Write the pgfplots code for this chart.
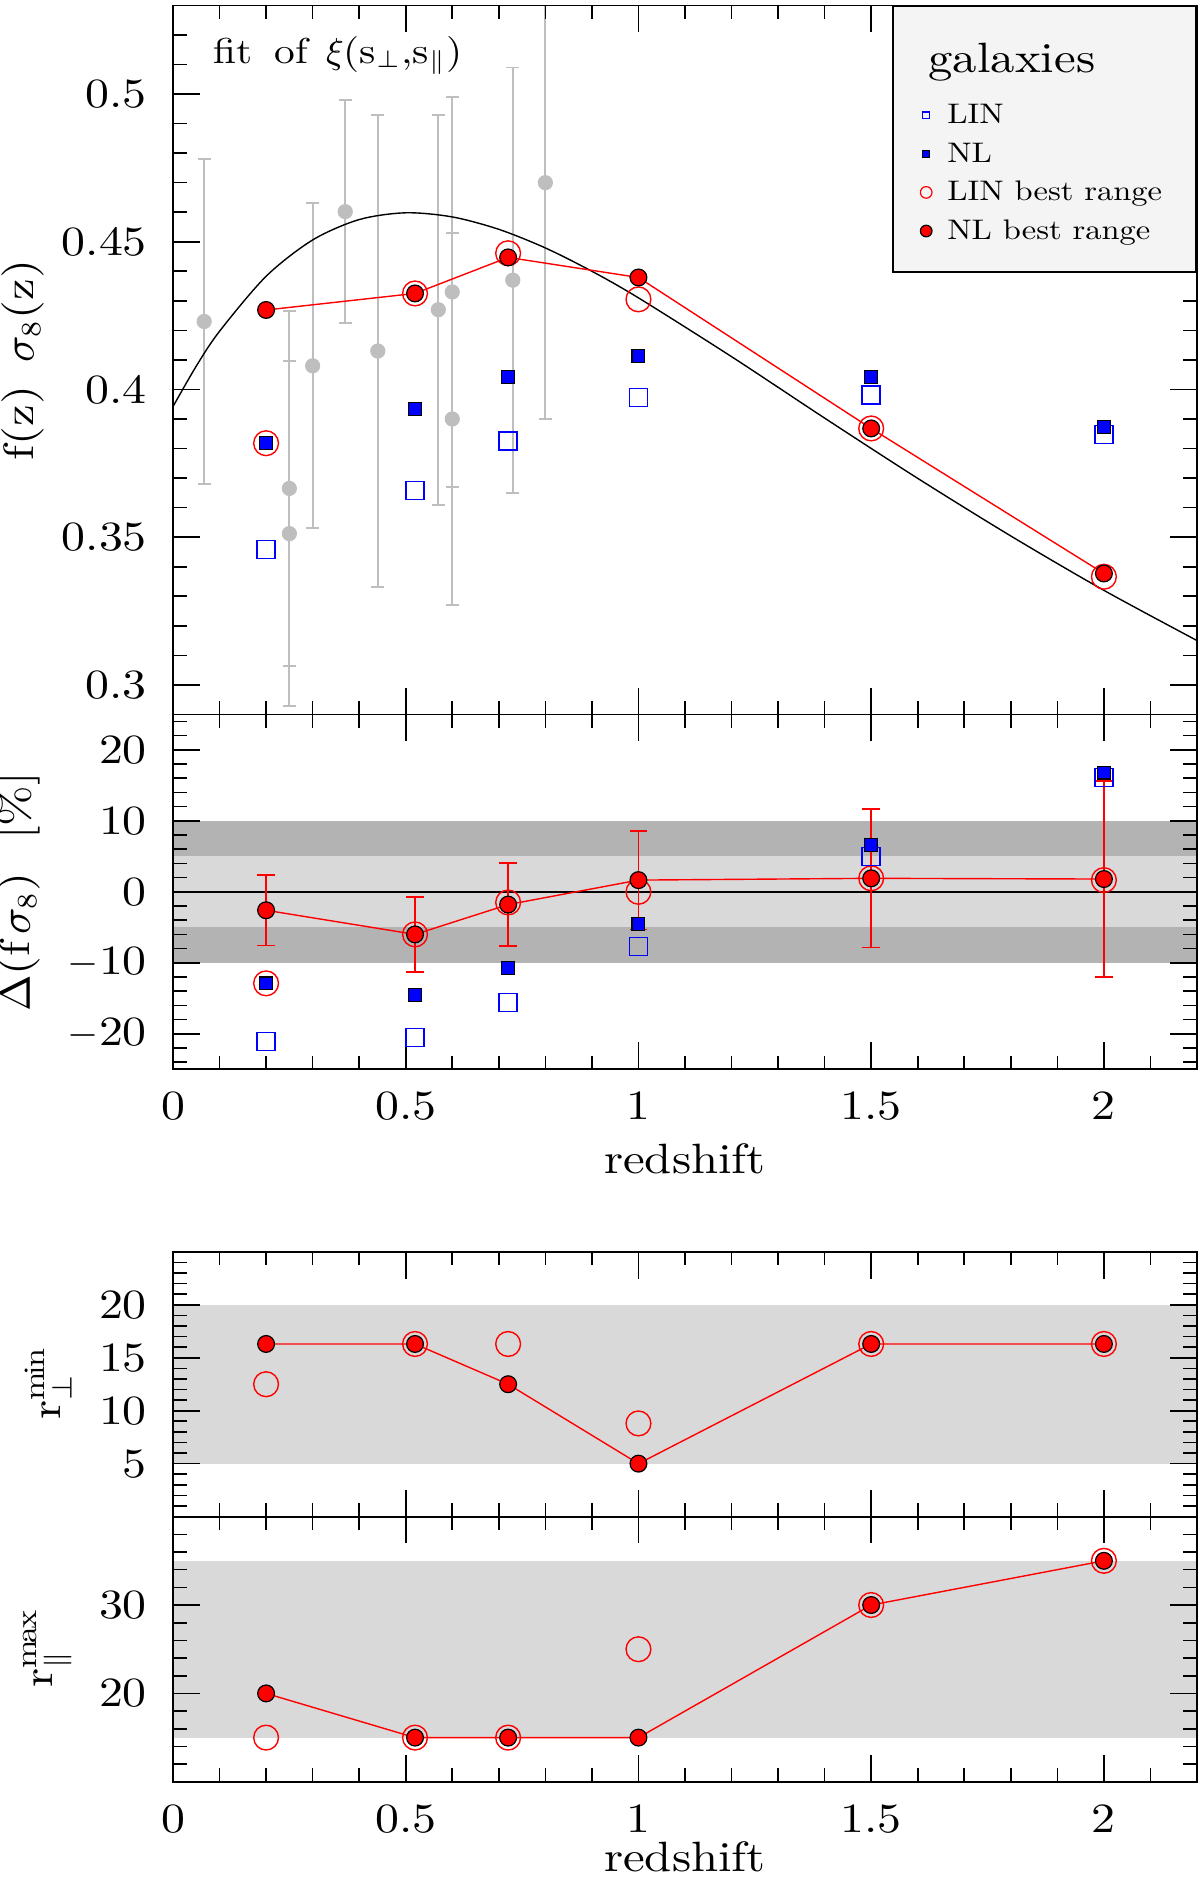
\documentclass[border=0pt]{standalone}
\usepackage{fontspec}
\setmainfont{lmroman10-regular.otf}[FakeStretch=1.15]
\usepackage{pgfplots}
\pgfplotsset{compat=1.18}
\definecolor{lgray}{HTML}{D9D9D9}
\definecolor{dgray}{HTML}{B3B3B3}
\definecolor{dgr}{HTML}{BEBEBE}
\definecolor{legfill}{HTML}{F4F4F4}
\pgfplotsset{
  base/.style={
    scale only axis, width=256pt,
    xmin=0, xmax=2.2,
    xtick={0,0.5,1,1.5,2},
    minor xtick={0.1,0.2,0.3,0.4,0.6,0.7,0.8,0.9,1.1,1.2,1.3,1.4,1.6,1.7,1.8,1.9,2.1},
    tick align=inside,
    major tick length=6.7pt, minor tick length=3.4pt,
    tick style={black, line width=0.4pt},
    axis line style={line width=0.45pt},
    tick label style={font=\fontsize{10.4}{12}\selectfont},
    label style={font=\fontsize{10.6}{12}\selectfont},
    /pgf/number format/assume math mode=true,
    yticklabel style={xshift=-3pt},
    xticklabel style={yshift=-2.2pt},
    xlabel style={yshift=1.2pt},
    axis on top,
  },
  legmark/.style={legend image code/.code={\path (-5.1pt,0pt) (5.1pt,0pt); \draw[##1] plot[only marks] coordinates {(0pt,0pt)};}},
  linsq/.style={only marks, mark=square, blue, mark size=2.25pt, line width=0.35pt},
  nlsq/.style={only marks, mark=square*, mark size=1.6pt, mark options={draw=black, fill=blue, line width=0.3pt}},
  linci/.style={only marks, mark=o, red, mark size=3.1pt, line width=0.35pt},
  nlci/.style={red, line width=0.35pt, mark=*, mark size=2.1pt, mark options={draw=black, fill=red, line width=0.3pt}},
}
\begin{document}
\begin{tikzpicture}
% ---------------- top panel ----------------
\begin{axis}[base, at={(0pt,0pt)}, anchor=north west, height=177.25pt,
  ymin=0.29, ymax=0.53, ytick={0.3,0.35,0.4,0.45,0.5},
  minor ytick={0.29,0.31,0.32,0.33,0.34,0.36,0.37,0.38,0.39,0.41,0.42,0.43,0.44,0.46,0.47,0.48,0.49,0.51,0.52},
  xticklabels={},
  ylabel={f(z)\, $\sigma_8$(z)},
  ylabel style={yshift=-2.5pt},
  legend cell align=left,
  legend style={at={(1,1)}, anchor=north east, fill=legfill, draw=black, line width=0.45pt,
    inner xsep=3.1pt, inner ysep=5.35pt, font=\fontsize{7.07}{8}\selectfont,
    nodes={inner sep=0pt, text height=6.9pt, text depth=2.75pt}, row sep=0pt, column sep=0pt},
]
\addlegendimage{empty legend}
\addlegendentry[text height=11.25pt, text depth=5.8pt]{\hspace*{-4.7pt}\fontsize{10.6}{12}\selectfont galaxies}
\addlegendimage{legmark, blue, mark=square, mark size=0.85pt, line width=0.35pt}
\addlegendentry{LIN}
\addlegendimage{legmark, draw=black, fill=blue, mark=square*, mark size=0.85pt, line width=0.3pt}
\addlegendentry{NL}
\addlegendimage{legmark, red, mark=o, mark size=1.45pt, line width=0.3pt}
\addlegendentry{LIN best range\hspace*{5.4pt}}
\addlegendimage{legmark, draw=black, fill=red, mark=*, mark size=1.45pt, line width=0.3pt}
\addlegendentry{NL best range}

% literature measurements
\addplot[forget plot, only marks, mark=*, mark size=1.7pt, color=dgr,
  error bars/.cd, y dir=both, y explicit,
  error bar style={line width=0.45pt, dgr},
  error mark options={rotate=90, mark size=1.6pt, line width=0.45pt, dgr}]
  coordinates {
  (0.067,0.423) +- (0,0.055)
  (0.25,0.3512) +- (0,0.0583)
  (0.25,0.3665) +- (0,0.0601)
  (0.30,0.408) +- (0,0.055)
  (0.37,0.4602) +- (0,0.0378)
  (0.44,0.413) +- (0,0.080)
  (0.57,0.427) +- (0,0.066)
  (0.60,0.390) +- (0,0.063)
  (0.60,0.433) +- (0,0.066)
  (0.73,0.437) +- (0,0.072)
  (0.80,0.470) +- (0,0.080)
  };
% model curve
\addplot[forget plot, black, line width=0.35pt, smooth, no markers] coordinates {
  (0,0.3942) (0.05,0.4079) (0.1,0.4197) (0.2,0.4383) (0.3,0.4506) (0.4,0.4575)
  (0.5,0.4598) (0.6,0.4584) (0.7,0.4542) (0.8,0.4479) (0.9,0.4400) (1.0,0.4310)
  (1.2,0.4111) (1.4,0.3903) (1.6,0.3699) (1.8,0.3504) (2.0,0.3320) (2.2,0.3150)};
\addplot[forget plot, linci] coordinates {
  (0.2,0.3818) (0.52,0.4325) (0.72,0.4461) (1.0,0.4305) (1.5,0.3868) (2.0,0.3366)};
\addplot[forget plot, nlci] coordinates {
  (0.2,0.4269) (0.52,0.4325) (0.72,0.4447) (1.0,0.4379) (1.5,0.3868) (2.0,0.3377)};
\addplot[forget plot, linsq] coordinates {
  (0.2,0.3459) (0.52,0.3657) (0.72,0.3826) (1.0,0.3972) (1.5,0.3981) (2.0,0.3848)};
\addplot[forget plot, nlsq] coordinates {
  (0.2,0.3818) (0.52,0.3934) (0.72,0.4043) (1.0,0.4113) (1.5,0.4043) (2.0,0.3872)};
\node[anchor=base west, inner sep=0pt, font=\fontsize{9}{10}\selectfont] at (axis cs:0.0847,0.5105)
  {fit\hspace{5.5pt}of\hspace{4.6pt}$\xi$(s$_\perp$,s$_\parallel$)};
\end{axis}

% ---------------- middle panel ----------------
\begin{axis}[base, at={(0pt,-177.25pt)}, anchor=north west, height=88.7pt,
  ymin=-25, ymax=25, ytick={-20,-10,0,10,20},
  yticklabels={$-$20,$-$10,0,10,20},
  minor ytick={-24,-22,-18,-16,-14,-12,-8,-6,-4,-2,2,4,6,8,12,14,16,18,22,24},
  xlabel={redshift},
  ylabel={$\Delta$(f\,$\sigma_8$)\ \ [\%]},
]
\addplot[forget plot, fill=dgray, draw=none] coordinates {(0,5) (2.2,5) (2.2,10) (0,10)} -- cycle;
\addplot[forget plot, fill=dgray, draw=none] coordinates {(0,-10) (2.2,-10) (2.2,-5) (0,-5)} -- cycle;
\addplot[forget plot, fill=lgray, draw=none] coordinates {(0,-5) (2.2,-5) (2.2,5) (0,5)} -- cycle;
\addplot[forget plot, black, line width=0.35pt] coordinates {(0,0) (2.2,0)};
\addplot[forget plot, linci] coordinates {
  (0.2,-12.9) (0.52,-6.0) (0.72,-1.5) (1.0,0.0) (1.5,1.9) (2.0,1.65)};
\addplot[forget plot, nlci,
  error bars/.cd, y dir=both, y explicit,
  error bar style={line width=0.4pt, red},
  error mark options={rotate=90, mark size=2.2pt, line width=0.4pt, red}]
  coordinates {
  (0.2,-2.6) +- (0,4.95)
  (0.52,-6.0) +- (0,5.3)
  (0.72,-1.8) +- (0,5.83)
  (1.0,1.65) +- (0,6.95)
  (1.5,1.9) +- (0,9.75)
  (2.0,1.8) +- (0,13.8)};
\addplot[forget plot, linsq] coordinates {
  (0.2,-21.1) (0.52,-20.5) (0.72,-15.6) (1.0,-7.7) (1.5,4.95) (2.0,16.1)};
\addplot[forget plot, nlsq] coordinates {
  (0.2,-12.9) (0.52,-14.5) (0.72,-10.7) (1.0,-4.5) (1.5,6.6) (2.0,16.8)};
\end{axis}

% ---------------- r_perp min ----------------
\begin{axis}[base, at={(0pt,-311.6pt)}, anchor=north west, height=66.2pt,
  ymin=0, ymax=25, ytick={5,10,15,20},
  minor ytick={1,2,3,4,6,7,8,9,11,12,13,14,16,17,18,19,21,22,23,24},
  xticklabels={},
  ylabel={r$^{\mathrm{min}}_{\perp}$},
]
\addplot[forget plot, fill=lgray, draw=none] coordinates {(0,5) (2.2,5) (2.2,20) (0,20)} -- cycle;
\addplot[forget plot, linci] coordinates {
  (0.2,12.5) (0.52,16.3) (0.72,16.3) (1.0,8.8) (1.5,16.3) (2.0,16.3)};
\addplot[forget plot, nlci] coordinates {
  (0.2,16.3) (0.52,16.3) (0.72,12.5) (1.0,5.0) (1.5,16.3) (2.0,16.3)};
\end{axis}

% ---------------- r_par max ----------------
\begin{axis}[base, at={(0pt,-377.8pt)}, anchor=north west, height=66.3pt,
  ymin=10, ymax=40, ytick={20,30},
  minor ytick={12,14,16,18,22,24,26,28,32,34,36,38},
  xlabel={redshift},
  xlabel style={yshift=3.6pt},
  ylabel={r$^{\mathrm{max}}_{\parallel}$},
]
\addplot[forget plot, fill=lgray, draw=none] coordinates {(0,15) (2.2,15) (2.2,35) (0,35)} -- cycle;
\addplot[forget plot, linci] coordinates {
  (0.2,15) (0.52,15) (0.72,15) (1.0,25) (1.5,30) (2.0,35)};
\addplot[forget plot, nlci] coordinates {
  (0.2,20) (0.52,15) (0.72,15) (1.0,15) (1.5,30) (2.0,35)};
\end{axis}

\pgfresetboundingbox
\path[use as bounding box] (-43.25pt,1.35pt) rectangle (256.75pt,-469.9pt);
\end{tikzpicture}
\end{document}
